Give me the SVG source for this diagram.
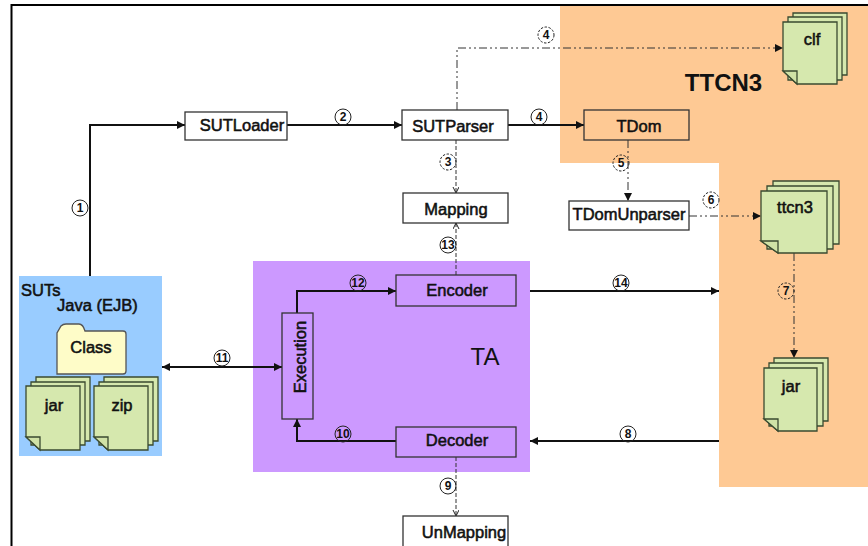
<svg xmlns="http://www.w3.org/2000/svg" width="868" height="546" viewBox="0 0 868 546">
<style>
text{font-family:"Liberation Sans",Arial,sans-serif;fill:#111;text-anchor:middle}
.b{font-size:16.500px;stroke:#111;stroke-width:0.55}
.box{fill:#fff;stroke:#333;stroke-width:1.3}
.clear{fill:none;stroke:#333;stroke-width:1.3}
.page{fill:#d6e8ae;stroke:#3a4a30;stroke-width:1.3}
.fold{fill:#d0e2a6;stroke:#3a4a30;stroke-width:1.3}
.s{fill:none;stroke:#111;stroke-width:2}
.m{fill:none;stroke:#333;stroke-width:1}
.dd{stroke-dasharray:8 3 2 3 2 3}
.d{stroke-dasharray:4 2}
.c{fill:none;stroke:#222;stroke-width:1}
.cd{fill:none;stroke:#222;stroke-width:1;stroke-dasharray:2.5 1.5}
.t{font-size:12px;font-weight:bold}
</style>
<defs>
<marker id="a" markerUnits="userSpaceOnUse" markerWidth="10" markerHeight="10" refX="8" refY="4" orient="auto"><path d="M0 0L8 4L0 8Z" fill="#111"/></marker>
<marker id="as" markerUnits="userSpaceOnUse" markerWidth="10" markerHeight="10" refX="8" refY="4" orient="auto-start-reverse"><path d="M0 0L8 4L0 8Z" fill="#111"/></marker>
<marker id="o" markerUnits="userSpaceOnUse" markerWidth="8" markerHeight="8" refX="6" refY="3" orient="auto"><path d="M0 0L6 3L0 6" fill="none" stroke="#222"/></marker>
</defs>
<rect width="868" height="546" fill="#fff"/>
<path d="M560 6H868V487H719V163H560Z" fill="#fec994"/>
<path d="M11.500 546V5H868" fill="none" stroke="#000" stroke-width="2"/>
<rect x="19" y="276" width="143" height="180" fill="#99ccff"/>
<rect x="253" y="261" width="277" height="211" fill="#cc99ff"/>
<text x="723.500" y="91" font-size="24" font-weight="bold">TTCN3</text>
<text x="485" y="365" font-size="24">TA</text>
<text x="21" y="296" class="b" style="text-anchor:start">SUTs</text>
<text x="57" y="311" class="b" style="text-anchor:start">Java (EJB)</text>

<g id="connectors">
<path class="s" d="M90 276V125H185" marker-end="url(#a)"/>
<path class="s" d="M287 125H402" marker-end="url(#a)"/>
<path class="s" d="M508 125H584" marker-end="url(#a)"/>
<path class="m d" d="M456 140V193" marker-end="url(#o)"/>
<path class="m d" d="M456 275V223" marker-end="url(#o)"/>
<path class="m dd" d="M457 110V48H783" marker-end="url(#a)"/>
<path class="m dd" d="M628 140V201" marker-end="url(#a)"/>
<path class="m dd" d="M689 216H761" marker-end="url(#a)"/>
<path class="m dd" d="M794 253V358" marker-end="url(#a)"/>
<path class="s" d="M530 291H719" marker-end="url(#a)"/>
<path class="s" d="M719 441H530" marker-end="url(#a)"/>
<path class="s" d="M162 367H282" marker-start="url(#as)" marker-end="url(#as)"/>
<path class="s" d="M297 313V291H396" marker-end="url(#a)"/>
<path class="s" d="M396 441H297V419" marker-end="url(#a)"/>
<path class="m d" d="M456 457V516" marker-end="url(#o)"/>
</g>

<g id="SUTLoader"><rect class="box" x="185" y="112" width="102" height="28"/><text class="b" x="242" y="131">SUTLoader</text></g>
<g id="SUTParser"><rect class="box" x="402" y="110" width="106" height="30"/><text class="b" x="453" y="132">SUTParser</text></g>
<g id="TDom"><rect class="clear" x="584" y="110" width="105" height="30"/><text class="b" x="639" y="132">TDom</text></g>
<g id="Mapping"><rect class="box" x="403" y="193" width="105" height="30"/><text class="b" x="456" y="215">Mapping</text></g>
<g id="TDomUnparser"><rect class="box" x="569" y="201" width="120" height="29"/><text class="b" x="629" y="220">TDomUnparser</text></g>
<g id="Encoder"><rect class="clear" x="396" y="275" width="120" height="31"/><text class="b" x="457" y="296">Encoder</text></g>
<g id="Decoder"><rect class="clear" x="396" y="427" width="120" height="30"/><text class="b" x="457" y="446">Decoder</text></g>
<g id="Execution"><rect class="clear" x="282" y="313" width="31" height="106"/><text class="b" transform="translate(306 357) rotate(-90)">Execution</text></g>
<g id="UnMapping"><rect class="box" x="403" y="516" width="105" height="32"/><text class="b" x="464" y="538">UnMapping</text></g>

<g id="clf">
<path class="page" d="M793 13H847V75H793Z"/><path class="page" d="M788 17H842V80H788Z"/>
<path class="page" d="M783 22H837V84H797L783 71Z"/><path class="fold" d="M783 71H797V84Z"/>
<text class="b" x="812" y="45">clf</text></g>
<g id="ttcn3">
<path class="page" d="M773 181H839V244H773Z"/><path class="page" d="M767 186H833V249H767Z"/>
<path class="page" d="M761 191H827V253H778L761 241Z"/><path class="fold" d="M761 241H778V253Z"/>
<text class="b" x="795" y="213">ttcn3</text></g>
<g id="jar2">
<path class="page" d="M774 358H828V421H774Z"/><path class="page" d="M769 363H823V426H769Z"/>
<path class="page" d="M764 368H817V431H778L764 419Z"/><path class="fold" d="M764 419H778V431Z"/>
<text class="b" x="791" y="392">jar</text></g>
<g id="Class"><path d="M57 374V333L61 326Q63 324 66 324H79Q83 324 85 331H123Q126 331 126 334V371Q126 374 123 374Z" fill="#fefcc8" stroke="#555" stroke-width="1.3"/><text class="b" x="91" y="353">Class</text></g>
<g id="jar1">
<path class="page" d="M36 377H90V441H36Z"/><path class="page" d="M31 382H85V445H31Z"/>
<path class="page" d="M26 386H80V450H40L26 437Z"/><path class="fold" d="M26 437H40V450Z"/>
<text class="b" x="54" y="411">jar</text></g>
<g id="zip">
<path class="page" d="M104 377H158V441H104Z"/><path class="page" d="M99 382H153V445H99Z"/>
<path class="page" d="M94 386H148V450H108L94 437Z"/><path class="fold" d="M94 437H108V450Z"/>
<text class="b" x="122" y="411">zip</text></g>

<g id="numbers">
<circle class="c" cx="80" cy="208" r="8"/><text class="t" x="80" y="212">1</text>
<circle class="c" cx="343" cy="117" r="8"/><text class="t" x="343" y="121">2</text>
<circle class="cd" cx="448" cy="162" r="8"/><text class="t" x="448" y="166">3</text>
<circle class="cd" cx="546" cy="35" r="8"/><text class="t" x="546" y="39">4</text>
<circle class="c" cx="539" cy="117" r="8"/><text class="t" x="539" y="121">4</text>
<circle class="cd" cx="621" cy="163" r="8"/><text class="t" x="621" y="167">5</text>
<circle class="cd" cx="711" cy="200" r="8"/><text class="t" x="711" y="204">6</text>
<circle class="cd" cx="786" cy="291" r="8"/><text class="t" x="786" y="295">7</text>
<circle class="c" cx="628" cy="434" r="8"/><text class="t" x="628" y="438">8</text>
<circle class="c" cx="448" cy="486" r="8"/><text class="t" x="448" y="490">9</text>
<circle class="c" cx="343" cy="434" r="8"/><text class="t" x="343" y="438">10</text>
<circle class="c" cx="222" cy="358" r="8"/><text class="t" x="222" y="362">11</text>
<circle class="c" cx="358" cy="283" r="8"/><text class="t" x="358" y="287">12</text>
<circle class="c" cx="448" cy="245" r="8"/><text class="t" x="448" y="249">13</text>
<circle class="c" cx="621" cy="283" r="8"/><text class="t" x="621" y="287">14</text>
</g>
</svg>
